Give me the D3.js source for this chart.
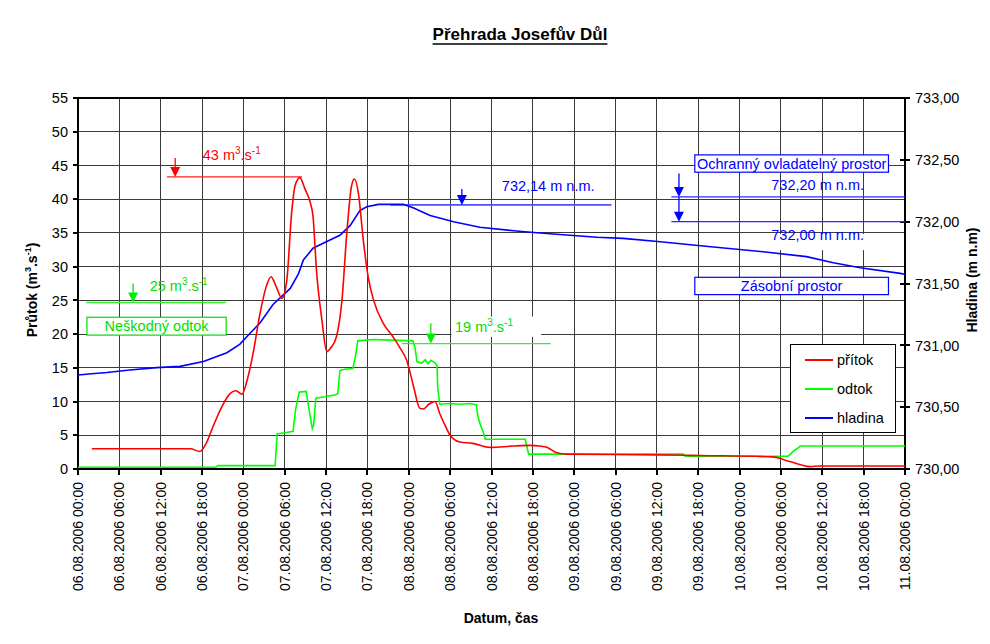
<!DOCTYPE html>
<html>
<head>
<meta charset="utf-8">
<script src="https://cdn.jsdelivr.net/npm/d3@7"></script>
<style>
html,body{margin:0;padding:0;background:#fff;}
svg text{font-family:"Liberation Sans",Arial,sans-serif;}
</style>
</head>
<body>
<svg id="chart" width="990" height="644"></svg>
<script>
// ---------------- DATA ----------------
const startTime = Date.UTC(2006, 7, 6, 0, 0);   // 06.08.2006 00:00
const endTime   = Date.UTC(2006, 7, 11, 0, 0);  // 11.08.2006 00:00
const tickStepHours = 6;

// přítok (m3/s) – hours since start / value
const inflowHours  = [2.0,16.3,17.7,18.6,19.6,20.9,22.1,22.9,23.8,24.5,25.4,26.4,27.3,28.0,28.7,29.6,30.3,31.0,31.5,32.2,32.9,33.7,34.1,34.6,35.4,36.1,36.7,37.5,38.3,39.0,39.7,40.1,40.7,41.4,42.1,42.9,44.3,45.7,46.7,47.7,48.7,49.6,50.1,50.9,51.8,52.5,53.3,54.0,55.4,57.3,59.8,63.1,65.6,67.0,68.1,69.5,70.9,84.0,90.3,100.8,103.3,106.2,107.7,120.0];
const inflowValues = [3.0,3.0,2.6,3.8,6.3,9.3,11.2,11.6,11.1,13.0,17.1,23.0,27.0,28.5,27.2,25.3,28.0,38.0,42.0,43.2,41.6,39.5,37.5,29.5,22.0,17.4,18.0,19.6,25.0,34.9,42.0,43.0,40.8,33.9,28.5,25.0,21.6,19.6,18.0,16.1,12.2,9.0,8.9,9.6,10.0,8.2,6.4,5.0,4.0,3.8,3.2,3.4,3.5,3.4,3.2,2.4,2.2,2.1,2.0,1.8,1.1,0.35,0.45,0.45];

// odtok (m3/s)
const outflowHours  = [0,20.0,20.3,28.6,28.9,30.2,31.2,31.6,32.1,33.1,33.5,34.0,34.2,34.5,35.8,37.4,37.7,38.0,38.7,39.9,40.3,40.6,42.8,45.3,48.6,48.9,49.2,49.9,50.4,50.8,51.2,51.7,52.1,52.2,52.5,54.0,55.4,56.9,57.8,58.0,58.3,58.8,59.1,64.9,65.2,65.4,75.7,87.8,88.1,103.0,103.5,103.7,104.3,104.8,120.0];
const outflowValues = [0.25,0.25,0.5,0.5,5.2,5.4,5.6,9.0,11.4,11.5,9.0,6.0,6.5,10.5,10.7,11.0,11.2,14.6,14.8,14.9,17.0,19.0,19.2,19.1,19.0,18.0,15.9,15.7,16.2,15.6,16.1,15.8,15.4,12.0,9.6,9.7,9.6,9.7,9.5,8.0,6.8,5.5,4.4,4.4,3.0,2.2,2.2,2.2,1.9,1.9,2.3,2.6,3.0,3.4,3.4];

// hladina (m n.m.)
const levelHours  = [0,2.0,4.2,7.5,11.4,14.8,18.2,21.6,23.5,25.0,26.4,28.3,30.8,32.0,32.7,34.1,36.1,38.0,39.5,40.9,41.9,43.6,47.2,48.7,51.1,54.5,58.3,63.2,66.6,70.9,75.3,79.1,84.5,90.7,99.4,105.7,109.6,113.5,119.3,120.0];
const levelValues = [730.76,730.77,730.78,730.80,730.82,730.83,730.87,730.94,731.01,731.10,731.18,731.33,731.46,731.58,731.69,731.785,731.84,731.89,731.97,732.09,732.12,732.14,732.14,732.11,732.05,732.00,731.955,731.927,731.911,731.892,731.874,731.865,731.838,731.803,731.757,731.717,731.668,731.628,731.582,731.575];

const leftTicks  = [0,5,10,15,20,25,30,35,40,45,50,55];
const rightTicks = [730,730.5,731,731.5,732,732.5,733];
const seriesNames  = ["přítok","odtok","hladina"];
const seriesColors = ["#ff0000","#00ff00","#0000ff"];

// annotation values
const inflowPeak = 43;        // m3/s
const harmlessOutflow = 25;   // m3/s
const maxOutflow = 19;        // m3/s
const maxLevel = 732.14;      // m n.m.
const ctrlTop = 732.20, ctrlBottom = 732.00;

// ---------------- SCALES ----------------
const svg = d3.select("#chart");
const L = 78, R = 905, T = 98, B = 469;
const hourToDate = h => new Date(startTime + h * 3600e3);
const x  = d3.scaleUtc().domain([new Date(startTime), new Date(endTime)]).range([L, R]);
const yL = d3.scaleLinear().domain([0, 55]).range([B, T]);
const yR = d3.scaleLinear().domain([730, 733]).range([B, T]);
const xh = h => x(hourToDate(h));
const fmtTime = d3.utcFormat("%d.%m.%Y %H:%M");
const fmtLevel = d => d3.format(".2f")(d).replace(".", ",");
const xTicks = d3.utcHour.every(tickStepHours).range(new Date(startTime), new Date(endTime + 1));

const FONT = 14.5;

// ---------------- GRID ----------------
const grid = svg.append("g").attr("stroke", "#3a3a3a").attr("stroke-width", 1).attr("shape-rendering","crispEdges");
grid.selectAll("line.v").data(xTicks.slice(1, -1)).join("line")
  .attr("x1", d => x(d)).attr("x2", d => x(d)).attr("y1", T).attr("y2", B);
grid.selectAll("line.h").data(leftTicks.slice(1)).join("line")
  .attr("x1", L).attr("x2", R).attr("y1", d => yL(d)).attr("y2", d => yL(d));

// ---------------- AXES ----------------
const ax = svg.append("g").attr("stroke", "#000").attr("shape-rendering","crispEdges");
ax.append("line").attr("x1", L).attr("x2", L).attr("y1", T).attr("y2", B).attr("stroke-width", 2);
ax.append("line").attr("x1", R).attr("x2", R).attr("y1", T).attr("y2", B).attr("stroke-width", 2);
ax.append("line").attr("x1", L).attr("x2", R).attr("y1", B).attr("y2", B).attr("stroke-width", 2);
ax.append("line").attr("x1", L).attr("x2", R).attr("y1", T).attr("y2", T).attr("stroke-width", 2);
// left ticks
ax.selectAll("line.lt").data(leftTicks).join("line")
  .attr("x1", L - 5).attr("x2", L).attr("y1", d => yL(d)).attr("y2", d => yL(d)).attr("stroke-width", 2);
svg.append("g").selectAll("text").data(leftTicks).join("text")
  .attr("x", L - 10).attr("y", d => yL(d)).attr("dy", "0.36em")
  .attr("text-anchor", "end").attr("font-size", FONT).text(d => d);
// right ticks
ax.selectAll("line.rt").data(rightTicks).join("line")
  .attr("x1", R - 5).attr("x2", R + 5).attr("y1", d => yR(d)).attr("y2", d => yR(d)).attr("stroke-width", 2);
svg.append("g").selectAll("text").data(rightTicks).join("text")
  .attr("x", R + 10).attr("y", d => yR(d)).attr("dy", "0.36em")
  .attr("text-anchor", "start").attr("font-size", FONT).text(fmtLevel);
// bottom ticks
ax.selectAll("line.bt").data(xTicks).join("line")
  .attr("x1", d => x(d)).attr("x2", d => x(d)).attr("y1", B).attr("y2", B + 6).attr("stroke-width", 2);
svg.append("g").selectAll("text").data(xTicks).join("text")
  .attr("transform", d => `translate(${x(d)},${B + 13}) rotate(-90)`)
  .attr("dy", "0.36em").attr("text-anchor", "end").attr("font-size", 14)
  .text(fmtTime);

// axis titles
svg.append("text").attr("x", 501).attr("y", 623).attr("text-anchor", "middle")
  .attr("font-weight", "bold").attr("font-size", 14).text("Datum, čas");
const lt = svg.append("text").attr("transform", "translate(37,290) rotate(-90)")
  .attr("text-anchor", "middle").attr("font-weight", "bold").attr("font-size", 14);
lt.append("tspan").text("Průtok (m");
lt.append("tspan").attr("font-size", 9).attr("dy", -6).text("3");
lt.append("tspan").attr("dy", 6).text(".s");
lt.append("tspan").attr("font-size", 9).attr("dy", -6).text("-1");
lt.append("tspan").attr("dy", 6).text(")");
svg.append("text").attr("transform", "translate(977,280) rotate(-90)")
  .attr("text-anchor", "middle").attr("font-weight", "bold").attr("font-size", 14)
  .text("Hladina (m n.m)");

// title
const title = svg.append("text").attr("x", 520).attr("y", 40).attr("text-anchor", "middle")
  .attr("font-weight", "bold").attr("font-size", 17).text("Přehrada Josefův Důl");
const tw = title.node().getComputedTextLength();
svg.append("line").attr("x1", 520 - tw / 2).attr("x2", 520 + tw / 2).attr("y1", 44).attr("y2", 44)
  .attr("stroke", "#000").attr("stroke-width", 1.5);

// ---------------- ANNOTATIONS ----------------
function arrow(cx, yTop, yTip, color) {
  svg.append("line").attr("x1", cx).attr("x2", cx).attr("y1", yTop).attr("y2", yTip - 9)
    .attr("stroke", color).attr("stroke-width", 1.3);
  svg.append("path").attr("d", `M${cx - 5},${yTip - 10} L${cx + 5},${yTip - 10} L${cx},${yTip} Z`).attr("fill", color);
}
function unitLabel(px, py, num, color) {
  const t = svg.append("text").attr("x", px).attr("y", py).attr("fill", color).attr("font-size", FONT);
  t.append("tspan").text(num + " m");
  t.append("tspan").attr("font-size", 10).attr("dy", -6).text("3");
  t.append("tspan").attr("dy", 6).text(".s");
  t.append("tspan").attr("font-size", 10).attr("dy", -6).text("-1");
}
function boxLabel(h0, h1, vTop, vBot, scaleY, text, color) {
  const x0 = xh(h0), x1 = xh(h1), y0 = scaleY(vTop), y1 = scaleY(vBot);
  svg.append("rect").attr("x", x0).attr("y", y0).attr("width", x1 - x0).attr("height", y1 - y0)
    .attr("fill", "#fff").attr("stroke", color).attr("stroke-width", 1.2);
  svg.append("text").attr("x", (x0 + x1) / 2).attr("y", (y0 + y1) / 2).attr("dy", "0.36em")
    .attr("text-anchor", "middle").attr("fill", color).attr("font-size", FONT).text(text);
}

// red – inflow peak
svg.append("line").attr("x1", xh(12.9)).attr("x2", xh(32.5)).attr("y1", yL(inflowPeak + 0.3)).attr("y2", yL(inflowPeak + 0.3))
  .attr("stroke", "#ff2020").attr("stroke-width", 1.3);
arrow(xh(14.1), yL(inflowPeak + 3.1), yL(inflowPeak + 0.3), "#ff0000");
unitLabel(xh(18.1), yL(45.8), inflowPeak, "#ff0000");

// green – harmless outflow
svg.append("line").attr("x1", xh(1.2)).attr("x2", xh(21.5)).attr("y1", yL(harmlessOutflow - 0.3)).attr("y2", yL(harmlessOutflow - 0.3))
  .attr("stroke", "#33ee33").attr("stroke-width", 1.5);
arrow(xh(8.0), yL(27.5), yL(harmlessOutflow - 0.3), "#00ee00");
unitLabel(xh(10.4), yL(26.4), harmlessOutflow, "#00dd00");
boxLabel(1.3, 21.5, 22.5, 19.85, yL, "Neškodný odtok", "#00dd00");

// green – max outflow
svg.append("rect").attr("x", xh(54.2)).attr("y", yL(22.6)).attr("width", xh(67.2) - xh(54.2)).attr("height", yL(19.6) - yL(22.6)).attr("fill", "#fff");
svg.append("line").attr("x1", xh(47.0)).attr("x2", xh(68.6)).attr("y1", yL(maxOutflow - 0.4)).attr("y2", yL(maxOutflow - 0.4))
  .attr("stroke", "#33ee33").attr("stroke-width", 1.3);
arrow(xh(51.2), yL(21.6), yL(maxOutflow - 0.4), "#00ee00");
unitLabel(xh(54.7), yL(20.3), maxOutflow, "#00dd00");

// blue – max level
svg.append("line").attr("x1", xh(45.3)).attr("x2", xh(77.4)).attr("y1", yR(maxLevel - 0.005)).attr("y2", yR(maxLevel - 0.005))
  .attr("stroke", "#5050ff").attr("stroke-width", 1.8);
arrow(xh(55.7), yR(732.265), yR(maxLevel - 0.005), "#0000ff");
svg.append("text").attr("x", xh(61.5)).attr("y", yR(732.25)).attr("fill", "#0000ff").attr("font-size", FONT).text("732,14 m n.m.");

// blue – control zone
svg.append("rect").attr("x", xh(99.8)).attr("y", yR(731.9)).attr("width", xh(115.9) - xh(99.8)).attr("height", yR(731.77) - yR(731.9)).attr("fill", "#fff");
[ctrlTop, ctrlBottom].forEach(v => {
  svg.append("line").attr("x1", xh(86.1)).attr("x2", R).attr("y1", yR(v)).attr("y2", yR(v))
    .attr("stroke", "#2a2aff").attr("stroke-width", 1.3);
});
arrow(xh(87.2), yR(732.39), yR(ctrlTop), "#0000ff");
arrow(xh(87.2), yR(ctrlTop), yR(ctrlBottom), "#0000ff");
svg.append("text").attr("x", xh(100.6)).attr("y", yR(732.26)).attr("fill", "#0000ff").attr("font-size", FONT).text("732,20 m n.m.");
svg.append("text").attr("x", xh(100.6)).attr("y", yR(731.85)).attr("fill", "#0000ff").attr("font-size", FONT).text("732,00 m n.m.");
boxLabel(89.5, 117.6, 732.54, 732.40, yR, "Ochranný ovladatelný prostor", "#0000ff");
boxLabel(89.5, 117.6, 731.55, 731.41, yR, "Zásobní prostor", "#0000ff");

// ---------------- SERIES ----------------
const inflowData  = inflowHours.map((h, i) => [hourToDate(h), inflowValues[i]]);
const outflowData = outflowHours.map((h, i) => [hourToDate(h), outflowValues[i]]);
const levelData   = levelHours.map((h, i) => [hourToDate(h), levelValues[i]]);

svg.append("path").datum(levelData).attr("fill", "none").attr("stroke", seriesColors[2]).attr("stroke-width", 1.6)
  .attr("d", d3.line().x(d => x(d[0])).y(d => yR(d[1])));
svg.append("path").datum(outflowData).attr("fill", "none").attr("stroke", seriesColors[1]).attr("stroke-width", 1.6)
  .attr("d", d3.line().x(d => x(d[0])).y(d => yL(d[1])));
svg.append("path").datum(inflowData).attr("fill", "none").attr("stroke", seriesColors[0]).attr("stroke-width", 1.6)
  .attr("d", d3.line().curve(d3.curveMonotoneX).x(d => x(d[0])).y(d => yL(d[1])));

// ---------------- LEGEND ----------------
const lg = svg.append("g");
lg.append("rect").attr("x", 790.5).attr("y", 344.5).attr("width", 105).attr("height", 88)
  .attr("fill", "#fff").attr("stroke", "#000").attr("stroke-width", 1);
seriesNames.forEach((n, i) => {
  const yy = 360 + i * 29;
  lg.append("line").attr("x1", 805).attr("x2", 833).attr("y1", yy).attr("y2", yy)
    .attr("stroke", seriesColors[i]).attr("stroke-width", 2);
  lg.append("text").attr("x", 837).attr("y", yy).attr("dy", "0.36em").attr("font-size", FONT).text(n);
});
</script>
</body>
</html>
